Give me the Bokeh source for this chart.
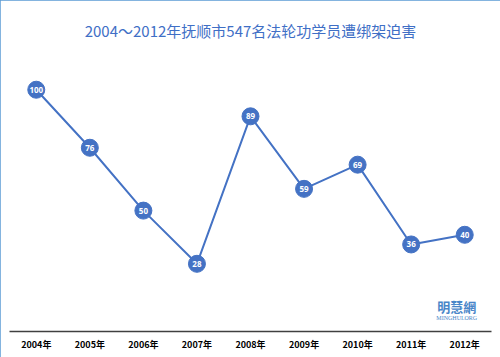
from bokeh.plotting import figure
from bokeh.models import Range1d, ColumnDataSource
from bokeh.embed import file_html
from bokeh.resources import INLINE
from bokeh.core.properties import value

years = ["2004年", "2005年", "2006年", "2007年", "2008年", "2009年", "2010年", "2011年", "2012年"]
counts = [100, 76, 50, 28, 89, 59, 69, 36, 40]
title_text = "2004～2012年抚顺市547名法轮功学员遭绑架迫害"

src = ColumnDataSource(dict(x=years, y=counts, t=[str(c) for c in counts]))

p = figure(width=500, height=357, x_range=years, y_range=Range1d(0, 115.4),
           output_backend="svg", toolbar_location=None,
           min_border_left=9, min_border_right=9, min_border_top=52, min_border_bottom=26)
p.styles = {"outline": "2px solid #5b9bd5", "outline-offset": "-2px",
            "width": "500px", "height": "357px", "max-width": "500px", "max-height": "357px",
            "box-sizing": "border-box", "overflow": "hidden"}
p.outline_line_color = None
p.background_fill_color = "white"
p.border_fill_color = "white"
p.xgrid.visible = False
p.ygrid.visible = False
p.yaxis.visible = False

p.title.text = title_text
p.title.align = "center"
p.title.standoff = 23
p.title.text_font = "Noto Sans CJK SC"
p.title.text_font_size = "15px"
p.title.text_font_style = "normal"
p.title.text_color = "#3f6fc6"

ax = p.xaxis[0]
ax.axis_line_color = "#404040"
ax.axis_line_width = 1.5
ax.major_tick_line_color = None
ax.minor_tick_line_color = None
ax.major_label_text_font = "Noto Sans CJK SC"
ax.major_label_text_font_size = "9px"
ax.major_label_text_font_style = "bold"
ax.major_label_text_color = "#000000"
ax.major_label_standoff = 0

p.line("x", "y", source=src, line_color="#4472c4", line_width=2)
p.scatter("x", "y", source=src, size=17, fill_color="#4472c4", line_color="#4472c4")
p.text("x", "y", text="t", source=src, text_color="white", text_font=value("Open Sans"),
       text_font_size="8px", text_font_style="bold", text_align="center", text_baseline="middle")

p.text(x=["2012年"], y=[10.3], text=["明慧網"], x_offset=-8, text_font=value("Noto Sans CJK TC"),
       text_font_size="13px", text_font_style="bold", text_color="#4a86c8",
       text_align="center", text_baseline="middle")
p.text(x=["2012年"], y=[5.4], text=["MINGHUI.ORG"], x_offset=-8, text_font=value("Liberation Serif"),
       text_font_size="6px", text_color="#4a86c8",
       text_align="center", text_baseline="middle")

open("out.html", "w").write(file_html(p, INLINE))
